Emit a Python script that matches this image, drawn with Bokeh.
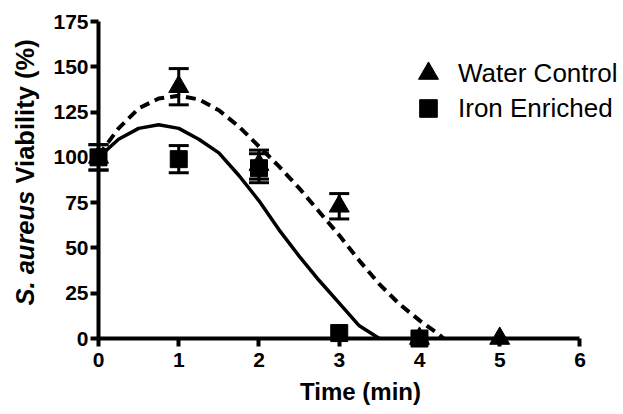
import math
from bokeh.plotting import figure
from bokeh.models import (ColumnDataSource, Range1d, FixedTicker, Legend, LegendItem)
from bokeh.core.properties import value
from bokeh.embed import file_html
from bokeh.resources import INLINE

# ---- data ----
time_water = [0, 1, 2, 3, 4, 5]
via_water = [100, 139, 96, 73, 0, 0]
err_water = [7, 10, 8, 7, 0, 0]

time_iron = [0, 1, 2, 3, 4]
via_iron = [100, 99, 94, 3, 0]
err_iron = [7, 7.5, 8, 0, 0]

fit_water_x = [0, 0.25, 0.5, 0.75, 1.0, 1.25, 1.5, 1.75, 2.0, 2.25, 2.5, 2.75, 3.0, 3.25, 3.5, 3.75, 4.0, 4.25, 4.3]
fit_water_y = [101, 116, 127, 132.5, 134, 132, 126, 117, 106, 95, 83, 70, 57, 43, 30, 19, 10, 2, 0]

fit_iron_x = [0, 0.25, 0.5, 0.75, 1.0, 1.25, 1.5, 1.75, 2.0, 2.25, 2.5, 2.75, 3.0, 3.25, 3.5]
fit_iron_y = [100, 110, 116, 118, 116, 110, 102.5, 90, 76, 60, 45.5, 32, 19.5, 7, 0]

x_ticks = [0, 1, 2, 3, 4, 5, 6]
y_ticks = [0, 25, 50, 75, 100, 125, 150, 175]

y_title_parts = ["S. aureus", "Viability (%)"]

FONT = "Liberation Sans"

p = figure(width=623, height=414, output_backend="svg", toolbar_location=None,
           x_range=Range1d(0, 6.53), y_range=Range1d(0, 175),
           min_border_left=98, min_border_right=1, min_border_top=21, min_border_bottom=76)
p.outline_line_color = None
p.grid.visible = False
p.background_fill_color = "white"
p.border_fill_color = "white"

for ax in (p.xaxis[0], p.yaxis[0]):
    ax.axis_line_width = 4
    ax.axis_line_color = "black"
    ax.major_tick_line_width = 4
    ax.major_tick_line_color = "black"
    ax.major_tick_in = 0
    ax.major_tick_out = 8
    ax.minor_tick_line_color = None
    ax.major_label_text_font = FONT
    ax.major_label_text_font_style = "bold"
    ax.major_label_text_font_size = "21px"
    ax.major_label_text_color = "black"

p.xaxis.bounds = (0, 6)
p.xaxis.ticker = FixedTicker(ticks=x_ticks)
p.yaxis.ticker = FixedTicker(ticks=y_ticks)
p.xaxis.major_label_standoff = 6
p.yaxis.major_label_standoff = 2
p.xaxis.axis_label = "Time (min)"
p.xaxis.axis_label_text_font = FONT
p.xaxis.axis_label_text_font_style = "bold"
p.xaxis.axis_label_text_font_size = "24px"
p.xaxis.axis_label_text_color = "black"
p.xaxis.axis_label_standoff = 8

# fitted curves
p.line(fit_water_x, fit_water_y, line_color="black", line_width=4, line_dash="10 6")
p.line(fit_iron_x, fit_iron_y, line_color="black", line_width=3.5)

# error bars (glyphs on the overlay level so that they are not cut at the axes)
def errorbars(xs, ys, es):
    xs2 = [x for x, e in zip(xs, es) if e > 0]
    lo = [y - e for y, e in zip(ys, es) if e > 0]
    hi = [y + e for y, e in zip(ys, es) if e > 0]
    src = ColumnDataSource(dict(x=xs2, lo=lo, hi=hi))
    p.segment(x0="x", y0="lo", x1="x", y1="hi", source=src, line_color="black",
              line_width=3, level="overlay")
    p.scatter(x="x", y="lo", source=src, marker="dash", size=20, line_color="black",
              line_width=3, level="overlay")
    p.scatter(x="x", y="hi", source=src, marker="dash", size=20, line_color="black",
              line_width=3, level="overlay")

errorbars(time_water, via_water, err_water)
errorbars(time_iron, via_iron, err_iron)

r_water = p.scatter(time_water, via_water, marker="triangle", size=20,
                    fill_color="black", line_color="black", level="overlay")
r_iron = p.scatter(time_iron, via_iron, marker="square", size=17,
                   fill_color="black", line_color="black", level="overlay")

leg1 = Legend(items=[LegendItem(label="Water Control", renderers=[r_water])],
              location=(305, 240), glyph_width=50, glyph_height=50, label_standoff=5,
              label_text_font=FONT, label_text_font_size="26px", label_text_color="black",
              padding=0, margin=0, border_line_color=None, background_fill_alpha=0)
leg2 = Legend(items=[LegendItem(label="Iron Enriched", renderers=[r_iron])],
              location=(308, 208), glyph_width=44, glyph_height=44, label_standoff=8,
              label_text_font=FONT, label_text_font_size="26px", label_text_color="black",
              padding=0, margin=0, border_line_color=None, background_fill_alpha=0)
p.add_layout(leg1)
p.add_layout(leg2)

# y-axis title: italic species name followed by bold text
ylab1 = ColumnDataSource(dict(x=[-0.921], y=[18.2], t=[y_title_parts[0]]))
ylab2 = ColumnDataSource(dict(x=[-0.921], y=[85.6], t=[y_title_parts[1]]))
p.text(x="x", y="y", text="t", source=ylab1, angle=math.pi / 2,
       text_align="left", text_baseline="middle", text_font=value(FONT),
       text_font_style="bold italic", text_font_size="25.5px", text_color="black",
       level="overlay")
p.text(x="x", y="y", text="t", source=ylab2, angle=math.pi / 2,
       text_align="left", text_baseline="middle", text_font=value(FONT),
       text_font_style="bold", text_font_size="25.5px", text_color="black",
       level="overlay")

open("out.html", "w").write(file_html(p, INLINE))
